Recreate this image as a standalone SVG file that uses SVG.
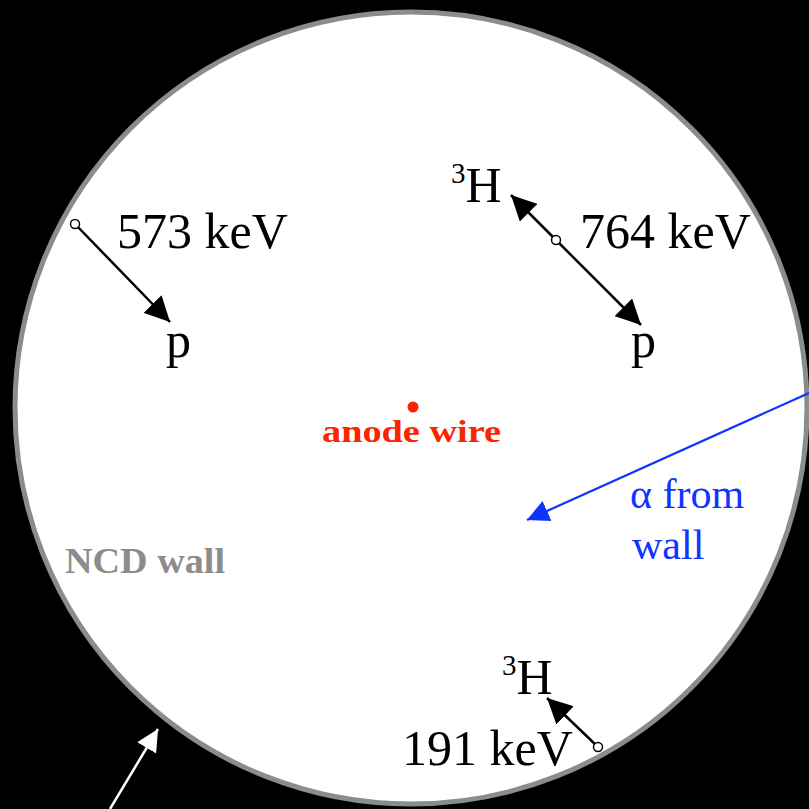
<svg xmlns="http://www.w3.org/2000/svg" width="809" height="809" viewBox="0 0 809 809">
<style>
.t{font-family:"Liberation Serif","Times New Roman",serif;fill:#000}
.big{font-size:50px}
.sup{font-size:29px}
.k{stroke:#000;stroke-width:2.5;fill:none}
.o{fill:#fff;stroke:#000;stroke-width:1.5}
.blue{font-family:"Liberation Serif","Times New Roman",serif;font-size:42px;fill:#1133ff}
</style>
<defs>
<marker id="ab" viewBox="0 0 10 10" refX="10" refY="5" markerWidth="22" markerHeight="22" markerUnits="userSpaceOnUse" orient="auto"><path d="M0,0 L10,5 L0,10 z" fill="#1133ff"/></marker>
<marker id="aw" viewBox="0 0 10 10" refX="10" refY="5" markerWidth="22" markerHeight="22" markerUnits="userSpaceOnUse" orient="auto"><path d="M0,0 L10,5 L0,10 z" fill="#fff"/></marker>
<marker id="akb" viewBox="0 0 10 10" refX="10" refY="5" markerWidth="25" markerHeight="25" markerUnits="userSpaceOnUse" orient="auto"><path d="M0,0 L10,5 L0,10 z" fill="#000"/></marker>
</defs>
<rect x="0" y="0" width="809" height="809" fill="#000"/>
<g id="ncd">
<circle cx="411" cy="408" r="396" fill="#fff" stroke="#8c8c8c" stroke-width="5"/>
</g>
<g id="anode">
<circle cx="413" cy="407" r="5.5" fill="#ff2200"/>
<text x="322" y="442" font-family="Liberation Serif,serif" font-weight="bold" font-size="31" fill="#ff2200" textLength="179" lengthAdjust="spacingAndGlyphs">anode wire</text>
</g>
<g id="wall-label">
<text x="65" y="573" font-family="Liberation Serif,serif" font-weight="bold" font-size="35" fill="#8c8c8c" textLength="160" lengthAdjust="spacingAndGlyphs">NCD wall</text>
</g>
<g id="connectors">
<line x1="75" y1="224" x2="170" y2="322" class="k" marker-end="url(#akb)"/>
<line x1="556" y1="240" x2="511" y2="195" class="k" marker-end="url(#akb)"/>
<line x1="556" y1="240" x2="641" y2="325" class="k" marker-end="url(#akb)"/>
<line x1="598" y1="747" x2="547" y2="698" class="k" marker-end="url(#akb)"/>
<line x1="809" y1="393" x2="527" y2="520" stroke="#1133ff" stroke-width="2.2" marker-end="url(#ab)"/>
<line x1="110" y1="809" x2="158" y2="729" stroke="#fff" stroke-width="2.5" marker-end="url(#aw)"/>
<circle cx="75" cy="224" r="4.5" class="o"/>
<circle cx="556" cy="240" r="4.5" class="o"/>
<circle cx="598" cy="747" r="4.5" class="o"/>
</g>
<g id="event1">
<text x="117" y="248" class="t big">573 keV</text>
<text x="166" y="357" class="t big">p</text>
</g>
<g id="event2">
<text x="451" y="202" class="t big"><tspan class="sup" dy="-19">3</tspan><tspan dy="19">H</tspan></text>
<text x="580" y="248" class="t big">764 keV</text>
<text x="631" y="357" class="t big">p</text>
</g>
<g id="event3">
<text x="502" y="694" class="t big"><tspan class="sup" dy="-19">3</tspan><tspan dy="19">H</tspan></text>
<text x="402" y="765" class="t big">191 keV</text>
</g>
<g id="alpha">
<text x="630" y="508" class="blue">α from</text>
<text x="632" y="559" class="blue">wall</text>
</g>
</svg>
